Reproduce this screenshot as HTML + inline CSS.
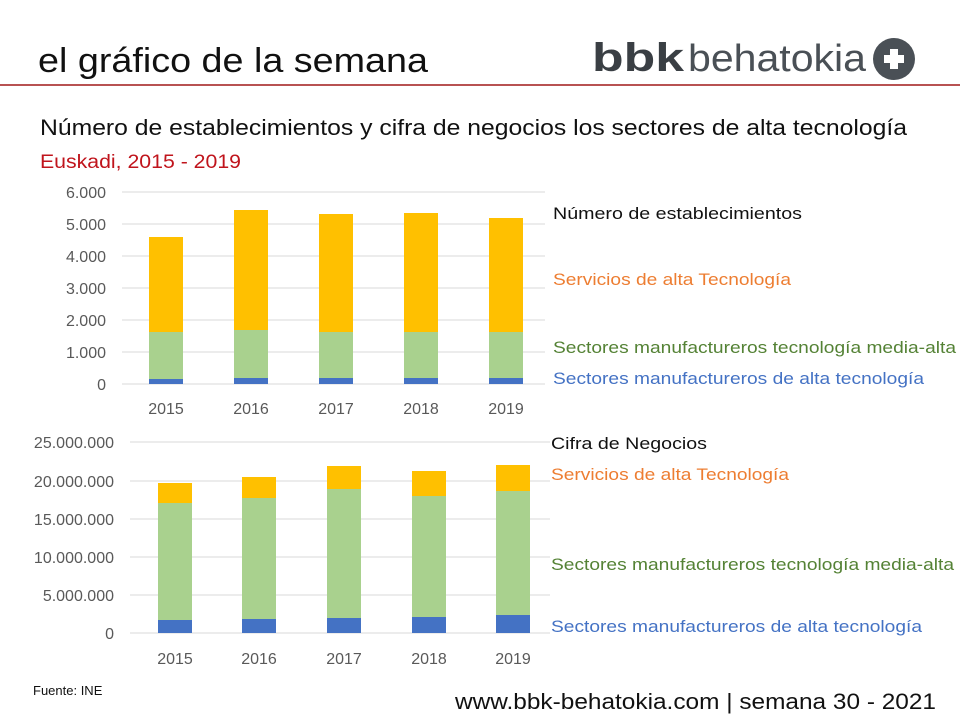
<!DOCTYPE html>
<html><head><meta charset="utf-8"><style>
body{margin:0;width:960px;height:720px;background:#fff;overflow:hidden;font-family:"Liberation Sans",sans-serif}
svg{position:absolute;left:0;top:0}
</style></head><body>
<svg width="960" height="720" viewBox="0 0 960 720" font-family="Liberation Sans, sans-serif">
<text x="38" y="72" font-size="34" fill="#111" textLength="390" lengthAdjust="spacingAndGlyphs">el gráfico de la semana</text>
<line x1="0" y1="85" x2="960" y2="85" stroke="#a01818" stroke-width="1.5"/>
<text x="592" y="71" font-size="40" font-weight="bold" fill="#3a3f44" textLength="92" lengthAdjust="spacingAndGlyphs">bbk</text>
<text x="688" y="71" font-size="38" fill="#4a5056" textLength="178" lengthAdjust="spacingAndGlyphs">behatokia</text>
<circle cx="894" cy="59" r="21" fill="#4a5056"/>
<rect x="884" y="55" width="20" height="8" fill="#fff"/><rect x="890" y="49" width="8" height="20" fill="#fff"/>
<text x="40" y="135" font-size="22" fill="#111" textLength="867" lengthAdjust="spacingAndGlyphs">Número de establecimientos y cifra de negocios los sectores de alta tecnología</text>
<text x="40" y="168" font-size="19" fill="#c0141c" textLength="201" lengthAdjust="spacingAndGlyphs">Euskadi, 2015 - 2019</text>
<g stroke="#d9d9d9" stroke-width="1">
<line x1="122" y1="192" x2="545" y2="192"/><line x1="122" y1="224" x2="545" y2="224"/><line x1="122" y1="256" x2="545" y2="256"/><line x1="122" y1="288" x2="545" y2="288"/><line x1="122" y1="320" x2="545" y2="320"/><line x1="122" y1="352" x2="545" y2="352"/><line x1="122" y1="384" x2="545" y2="384"/>
<line x1="130" y1="442" x2="550" y2="442"/><line x1="130" y1="481" x2="550" y2="481"/><line x1="130" y1="519" x2="550" y2="519"/><line x1="130" y1="557" x2="550" y2="557"/><line x1="130" y1="595" x2="550" y2="595"/><line x1="130" y1="633" x2="550" y2="633"/>
</g>
<g font-size="16" fill="#595959" text-anchor="end">
<text x="106" y="198">6.000</text><text x="106" y="230">5.000</text><text x="106" y="262">4.000</text><text x="106" y="294">3.000</text><text x="106" y="326">2.000</text><text x="106" y="358">1.000</text><text x="106" y="390">0</text>
<text x="114" y="448">25.000.000</text><text x="114" y="487">20.000.000</text><text x="114" y="525">15.000.000</text><text x="114" y="563">10.000.000</text><text x="114" y="601">5.000.000</text><text x="114" y="639">0</text>
</g>
<g font-size="16" fill="#595959" text-anchor="middle">
<text x="166" y="414">2015</text><text x="251" y="414">2016</text><text x="336" y="414">2017</text><text x="421" y="414">2018</text><text x="506" y="414">2019</text>
<text x="175" y="664">2015</text><text x="259" y="664">2016</text><text x="344" y="664">2017</text><text x="429" y="664">2018</text><text x="513" y="664">2019</text>
</g>
<g>
<rect x="149" y="237" width="34" height="95" fill="#ffc000"/><rect x="149" y="332" width="34" height="47" fill="#a9d18e"/><rect x="149" y="379" width="34" height="5" fill="#4472c4"/>
<rect x="234" y="210" width="34" height="120" fill="#ffc000"/><rect x="234" y="330" width="34" height="48" fill="#a9d18e"/><rect x="234" y="378" width="34" height="6" fill="#4472c4"/>
<rect x="319" y="214" width="34" height="118" fill="#ffc000"/><rect x="319" y="332" width="34" height="46" fill="#a9d18e"/><rect x="319" y="378" width="34" height="6" fill="#4472c4"/>
<rect x="404" y="213" width="34" height="119" fill="#ffc000"/><rect x="404" y="332" width="34" height="46" fill="#a9d18e"/><rect x="404" y="378" width="34" height="6" fill="#4472c4"/>
<rect x="489" y="218" width="34" height="114" fill="#ffc000"/><rect x="489" y="332" width="34" height="46" fill="#a9d18e"/><rect x="489" y="378" width="34" height="6" fill="#4472c4"/>

<rect x="158" y="483" width="34" height="20" fill="#ffc000"/><rect x="158" y="503" width="34" height="117" fill="#a9d18e"/><rect x="158" y="620" width="34" height="13" fill="#4472c4"/>
<rect x="242" y="477" width="34" height="21" fill="#ffc000"/><rect x="242" y="498" width="34" height="121" fill="#a9d18e"/><rect x="242" y="619" width="34" height="14" fill="#4472c4"/>
<rect x="327" y="466" width="34" height="23" fill="#ffc000"/><rect x="327" y="489" width="34" height="129" fill="#a9d18e"/><rect x="327" y="618" width="34" height="15" fill="#4472c4"/>
<rect x="412" y="471" width="34" height="25" fill="#ffc000"/><rect x="412" y="496" width="34" height="121" fill="#a9d18e"/><rect x="412" y="617" width="34" height="16" fill="#4472c4"/>
<rect x="496" y="465" width="34" height="26" fill="#ffc000"/><rect x="496" y="491" width="34" height="124" fill="#a9d18e"/><rect x="496" y="615" width="34" height="18" fill="#4472c4"/>
</g>
<g font-size="17">
<text x="553" y="219" fill="#111" textLength="249" lengthAdjust="spacingAndGlyphs">Número de establecimientos</text>
<text x="553" y="285" fill="#ed7d31" textLength="238" lengthAdjust="spacingAndGlyphs">Servicios de alta Tecnología</text>
<text x="553" y="353" fill="#548235" textLength="403" lengthAdjust="spacingAndGlyphs">Sectores manufactureros tecnología media-alta</text>
<text x="553" y="384" fill="#4472c4" textLength="371" lengthAdjust="spacingAndGlyphs">Sectores manufactureros de alta tecnología</text>
<text x="551" y="449" fill="#111" textLength="156" lengthAdjust="spacingAndGlyphs">Cifra de Negocios</text>
<text x="551" y="480" fill="#ed7d31" textLength="238" lengthAdjust="spacingAndGlyphs">Servicios de alta Tecnología</text>
<text x="551" y="570" fill="#548235" textLength="403" lengthAdjust="spacingAndGlyphs">Sectores manufactureros tecnología media-alta</text>
<text x="551" y="632" fill="#4472c4" textLength="371" lengthAdjust="spacingAndGlyphs">Sectores manufactureros de alta tecnología</text>
</g>
<text x="33" y="695" font-size="13" fill="#111">Fuente: INE</text>
<text x="455" y="709" font-size="22" fill="#111" textLength="481" lengthAdjust="spacingAndGlyphs">www.bbk-behatokia.com | semana 30 - 2021</text>
</svg>
</body></html>
